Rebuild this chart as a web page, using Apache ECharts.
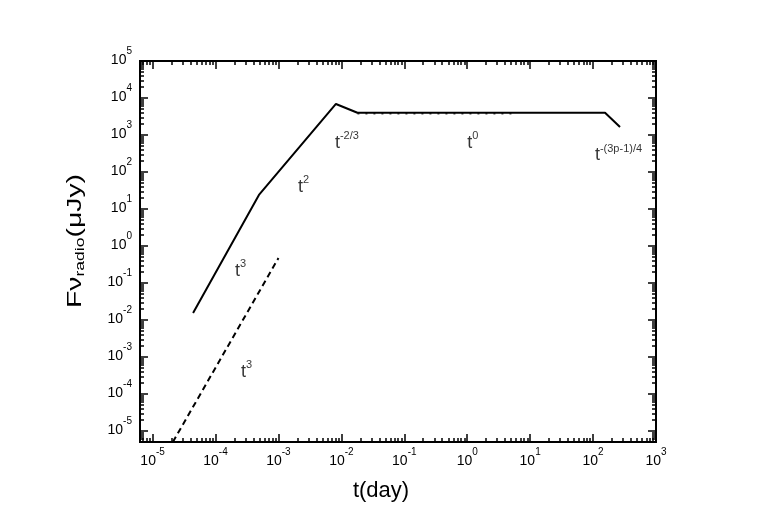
<!DOCTYPE html>
<html>
<head>
<meta charset="utf-8">
<script src="https://cdn.jsdelivr.net/npm/echarts@6/dist/echarts.min.js"></script>
<style>
  html, body { margin: 0; padding: 0; background: #fff; }
  #chart { width: 761px; height: 526px; }
</style>
</head>
<body>
<div id="chart"></div>
<script>
// light curve, values in day / microJy (plotted on log10 scale)
var solidT = [4.4e-5, 4.9e-4, 8.2e-3, 1.8e-2, 155, 268];
var solidF = [1.55e-2, 24, 6900, 4000, 4000, 1640];
var dashT = [2.1e-5, 1.0e-3];
var dashF = [5.0e-6, 0.47];
var dotT = [1.8e-2, 6];
var dotF = [3800, 3800];

// slope annotations: t^exp
var noteT = [2.04e-4, 2.54e-4, 2.05e-3, 7.9e-3, 1.0, 107];
var noteF = [0.155, 2.88e-4, 28.8, 446, 446, 211];
var noteExp = ["3", "3", "2", "-2/3", "0", "-(3p-1)/4"];

// axis tick decades
var xTickExp = [-5, -4, -3, -2, -1, 0, 1, 2, 3];
var yTickExp = [-5, -4, -3, -2, -1, 0, 1, 2, 3, 4, 5];

var xRange = [-5.2, 3];
var yRange = [-5.3, 5];

function lg(v) { return Math.log10(v); }
function pairs(a, b) {
  return a.map(function (v, i) { return [lg(v), lg(b[i])]; });
}
function minorTicks(range) {
  var out = [];
  for (var n = Math.floor(range[0]) - 1; n <= Math.ceil(range[1]); n++) {
    for (var k = 2; k <= 9; k++) {
      var v = n + Math.log10(k);
      if (v > range[0] && v < range[1]) out.push(v);
    }
  }
  return out;
}

var FONT = "Liberation Sans";
var labelRich = {
  b: { fontSize: 14, lineHeight: 21, fontFamily: FONT, color: "#000", verticalAlign: "bottom" },
  s: { fontSize: 10, lineHeight: 10, fontFamily: FONT, color: "#000", verticalAlign: "top" }
};
function expLabel(v) {
  return "{b|10}{s|" + Math.round(v) + "}";
}

function makeAxis(kind, pos, major, range, tickVals, withLabels) {
  var ax = {
    type: "value",
    position: pos,
    min: range[0],
    max: range[1],
    axisLine: { show: false, onZero: false },
    splitLine: { show: false },
    axisTick: {
      show: true,
      inside: true,
      length: major ? 8 : 4,
      customValues: tickVals,
      lineStyle: { color: "#000", width: 1.5 }
    },
    axisLabel: { show: false }
  };
  if (withLabels) {
    ax.axisLabel = {
      show: true,
      customValues: tickVals,
      formatter: expLabel,
      rich: labelRich,
      margin: kind === "x" ? 5 : 8,
      padding: kind === "x" ? 0 : [0, 0, 9, 0]
    };
  }
  return ax;
}

var chart = echarts.init(document.getElementById("chart"));

var xMinor = minorTicks(xRange);
var yMinor = minorTicks(yRange);

var option = {
  animation: false,
  backgroundColor: "#fff",
  grid: {
    left: 140, right: 105, top: 61, bottom: 84,
    show: true, borderColor: "#000", borderWidth: 2
  },
  xAxis: [
    makeAxis("x", "bottom", true, xRange, xTickExp, true),
    makeAxis("x", "bottom", false, xRange, xMinor, false),
    makeAxis("x", "top", true, xRange, xTickExp, false),
    makeAxis("x", "top", false, xRange, xMinor, false)
  ],
  yAxis: [
    makeAxis("y", "left", true, yRange, yTickExp, true),
    makeAxis("y", "left", false, yRange, yMinor, false),
    makeAxis("y", "right", true, yRange, yTickExp, false),
    makeAxis("y", "right", false, yRange, yMinor, false)
  ],
  graphic: [
    {
      type: "text",
      x: 381, y: 491,
      style: {
        text: "t(day)",
        font: "22px " + FONT,
        fill: "#000",
        align: "center",
        verticalAlign: "middle"
      }
    },
    {
      type: "text",
      x: 76, y: 241,
      rotation: Math.PI / 2,
      scaleX: 1.35,
      style: {
        text: "{a|F\u03bd}{r|radio}{a|(\u03bcJy)}",
        align: "center",
        verticalAlign: "middle",
        rich: {
          a: { fontSize: 21, lineHeight: 22, fontFamily: FONT, fill: "#000", verticalAlign: "top" },
          r: { fontSize: 13, lineHeight: 13, fontFamily: FONT, fill: "#000", verticalAlign: "bottom" }
        }
      }
    }
  ],
  series: [
    {
      type: "line",
      data: pairs(solidT, solidF),
      symbol: "none",
      lineStyle: { color: "#000", width: 2 },
      z: 3
    },
    {
      type: "line",
      data: pairs(dotT, dotF),
      symbol: "none",
      lineStyle: { color: "#444", width: 2, type: [2, 6] },
      z: 2
    },
    {
      type: "line",
      data: pairs(dashT, dashF),
      symbol: "none",
      clip: true,
      lineStyle: { color: "#000", width: 2, type: [6, 4] }
    },
    {
      type: "scatter",
      symbolSize: 0,
      data: noteT.map(function (t, i) {
        return { value: [lg(t), lg(noteF[i])], exp: noteExp[i] };
      }),
      label: {
        show: true,
        position: [0, 0],
        align: "left",
        verticalAlign: "bottom",
        offset: [0, 4],
        formatter: function (p) { return "{t|t}{e|" + p.data.exp + "}"; },
        rich: {
          t: { fontSize: 18, lineHeight: 21, fontFamily: FONT, color: "#000", verticalAlign: "bottom" },
          e: { fontSize: 11, lineHeight: 11, fontFamily: FONT, color: "#000", verticalAlign: "top" }
        }
      },
      silent: true
    }
  ]
};

chart.setOption(option);
</script>
</body>
</html>
